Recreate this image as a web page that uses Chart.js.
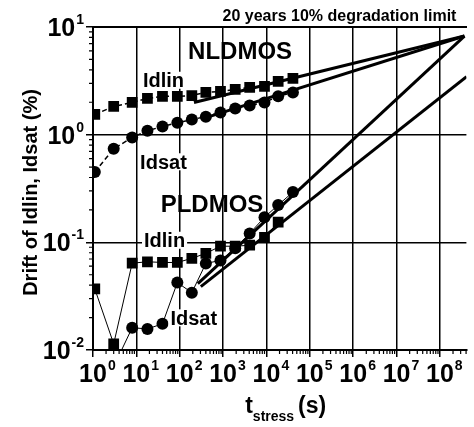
<!DOCTYPE html>
<html>
<head>
<meta charset="utf-8">
<script src="https://cdn.jsdelivr.net/npm/chart.js@4.4.0/dist/chart.umd.min.js"></script>
<style>
  html, body { margin: 0; padding: 0; background: #fff; overflow: hidden; }
  #wrap { width: 474px; height: 427px; }
</style>
</head>
<body>
<div id="wrap"><canvas id="driftChart" width="474" height="427"></canvas></div>
<script>
// Stress times (s) of the measurements
const stressTimes = [1.1, 3, 8, 18, 40, 88, 190, 400, 870, 1900, 4100, 9000, 18600, 40700];

// NLDMOS drift (%)
const nIdlin = [1.54, 1.83, 1.99, 2.17, 2.27, 2.27, 2.31, 2.47, 2.52, 2.63, 2.75, 2.81, 3.13, 3.34];
const nIdsat = [0.45, 0.74, 0.94, 1.09, 1.19, 1.29, 1.38, 1.47, 1.61, 1.75, 1.87, 1.99, 2.27, 2.47];

// PLDMOS drift (%)
const pIdlinTimes = [1.1, 3, 8, 18, 40, 88, 190, 400, 870, 1900, 4100, 9000, 18600];
const pIdlin = [0.037, 0.0114, 0.064, 0.066, 0.065, 0.065, 0.071, 0.079, 0.092, 0.092, 0.094, 0.111, 0.154];
const pIdsatTimes = [3, 8, 18, 40, 88, 190, 400, 870, 1900, 4100, 9000, 18600, 40700];
const pIdsat = [0.007, 0.0161, 0.0157, 0.0175, 0.0423, 0.0341, 0.0637, 0.0679, 0.088, 0.121, 0.171, 0.222, 0.293];

// Extrapolations to the degradation limit: [time, drift] start and end
const fitNIdlin = [[213, 1.99], [3.67e8, 8.24]];
const fitNIdsat = [[340, 1.41], [3.67e8, 8.24]];
const fitPIdsat = [[262, 0.0414], [3.67e8, 8.24]];
const fitPIdlin = [[306, 0.0388], [4.1e8, 3.45]];

// Axis ticks
const xDecades = [1, 10, 100, 1e3, 1e4, 1e5, 1e6, 1e7, 1e8];
const yDecades = [0.01, 0.1, 1, 10];
const xMax = 4.07e8;

// Text placed in the plot, anchored at data coordinates (left, baseline)
const curveLabels = [
  { text: 'NLDMOS', t: 156, d: 5.02, size: 24, box: false },
  { text: 'PLDMOS', t: 36.3, d: 0.191, size: 24, box: false },
  { text: 'Idlin', t: 14.2, d: 2.75, size: 20, box: true },
  { text: 'Idsat', t: 12.2, d: 0.481, size: 20, box: true },
  { text: 'Idlin', t: 15, d: 0.0898, size: 20, box: true },
  { text: 'Idsat', t: 61, d: 0.0171, size: 20, box: true }
];

const FONT = '"Liberation Sans", Arial, Helvetica, sans-serif';

function pairs(xs, ys) {
  return ys.map((y, i) => ({ x: xs[i], y: y }));
}
function fitPoints(f) {
  return f.map(p => ({ x: p[0], y: p[1] }));
}

function measured(label, data, style, dash, width) {
  return {
    label: label,
    data: data,
    borderColor: '#000',
    backgroundColor: '#000',
    borderWidth: width,
    borderDash: dash,
    pointStyle: style,
    pointRadius: style === 'rect' ? 7.6 : 6,
    pointBorderWidth: 0,
    showLine: true,
    tension: 0
  };
}
function fitLine(label, data) {
  return {
    label: label,
    data: data,
    borderColor: '#000',
    borderWidth: 3,
    pointRadius: 0,
    showLine: true,
    tension: 0
  };
}

// labels with a power of ten
function drawPow(ctx, exp, x, y, mode) {
  const bigFont = 'bold 25px ' + FONT;
  const smallFont = 'bold 14px ' + FONT;
  ctx.font = bigFont;
  const wBase = ctx.measureText('10').width;
  ctx.font = smallFont;
  const wExp = ctx.measureText(exp).width;
  let x0;
  if (mode === 'center') x0 = x - wBase / 2;
  else x0 = x - wBase - wExp - 1;
  ctx.textAlign = 'left';
  ctx.textBaseline = 'alphabetic';
  ctx.font = bigFont;
  ctx.fillText('10', x0, y);
  ctx.font = smallFont;
  ctx.fillText(exp, x0 + wBase + 1, y - 12);
}

const decorations = {
  id: 'decorations',
  beforeDraw(chart) {
    const { ctx, scales } = chart;
    ctx.save();
    ctx.fillStyle = '#fff';
    ctx.fillRect(0, 0, chart.width, chart.height);
    ctx.fillStyle = '#000';
    ctx.textBaseline = 'alphabetic';
    ctx.textAlign = 'left';
    curveLabels.filter(l => !l.box).forEach(l => {
      ctx.font = 'bold ' + l.size + 'px ' + FONT;
      ctx.fillText(l.text, scales.x.getPixelForValue(l.t), scales.y.getPixelForValue(l.d));
    });
    ctx.restore();
  },
  afterDatasetsDraw(chart) {
    const { ctx, scales } = chart;
    ctx.save();
    ctx.textBaseline = 'alphabetic';
    ctx.textAlign = 'left';
    curveLabels.filter(l => l.box).forEach(l => {
      ctx.font = 'bold ' + l.size + 'px ' + FONT;
      const x = scales.x.getPixelForValue(l.t);
      const y = scales.y.getPixelForValue(l.d);
      const w = ctx.measureText(l.text).width;
      ctx.fillStyle = '#fff';
      ctx.fillRect(x - 2, y - l.size * 0.78, w + 4, l.size * 0.85);
      ctx.fillStyle = '#000';
      ctx.fillText(l.text, x, y);
    });
    ctx.restore();
  },
  afterDraw(chart) {
    const { ctx, scales, chartArea } = chart;
    const xs = scales.x, ys = scales.y;
    ctx.save();
    ctx.strokeStyle = '#000';
    ctx.lineWidth = 1.2;

    // minor ticks
    ctx.beginPath();
    xDecades.forEach(d => {
      for (let k = 2; k <= 9; k++) {
        const v = d * k;
        if (v > xMax) break;
        const px = xs.getPixelForValue(v);
        ctx.moveTo(px, chartArea.bottom);
        ctx.lineTo(px, chartArea.bottom + 4);
      }
    });
    yDecades.slice(0, -1).forEach(d => {
      for (let k = 2; k <= 9; k++) {
        const py = ys.getPixelForValue(d * k);
        ctx.moveTo(chartArea.left, py);
        ctx.lineTo(chartArea.left - 4, py);
      }
    });
    ctx.stroke();

    ctx.fillStyle = '#000';
    // tick labels
    xDecades.forEach((d, i) => {
      drawPow(ctx, String(i), xs.getPixelForValue(d), chartArea.bottom + 32, 'center');
    });
    yDecades.forEach((d, i) => {
      drawPow(ctx, String(i - 2), chartArea.left - 9, ys.getPixelForValue(d) + 9, 'right');
    });

    // y title
    ctx.save();
    ctx.translate(37, (chartArea.top + chartArea.bottom) / 2 + 4);
    ctx.rotate(-Math.PI / 2);
    ctx.textAlign = 'center';
    ctx.font = 'bold 20px ' + FONT;
    ctx.fillText('Drift of Idlin, Idsat (%)', 0, 0);
    ctx.restore();

    // x title: t_stress (s)
    const big = 'bold 23px ' + FONT, sub = 'bold 14px ' + FONT;
    ctx.font = big;
    const wt = ctx.measureText('t').width;
    const wp = ctx.measureText('(s)').width;
    ctx.font = sub;
    const ws = ctx.measureText('stress').width;
    const total = wt + ws + wp + 4;
    let x0 = (chartArea.left + chartArea.right) / 2 + 6 - total / 2;
    const base = chartArea.bottom + 63;
    ctx.textAlign = 'left';
    ctx.font = big;
    ctx.fillText('t', x0, base);
    ctx.font = sub;
    ctx.fillText('stress', x0 + wt, base + 8);
    ctx.font = big;
    ctx.fillText('(s)', x0 + wt + ws + 4, base);

    // limit note
    ctx.font = 'bold 16px ' + FONT;
    ctx.textAlign = 'right';
    ctx.fillText('20 years 10% degradation limit', chartArea.right - 10, chartArea.top - 6);
    ctx.restore();
  }
};

const ctx = document.getElementById('driftChart').getContext('2d');
new Chart(ctx, {
  type: 'scatter',
  data: {
    datasets: [
      measured('NLDMOS Idlin', pairs(stressTimes, nIdlin), 'rect', [5, 3], 1.5),
      measured('NLDMOS Idsat', pairs(stressTimes, nIdsat), 'circle', [5, 3], 1.5),
      measured('PLDMOS Idlin', pairs(pIdlinTimes, pIdlin), 'rect', [], 1),
      measured('PLDMOS Idsat', pairs(pIdsatTimes, pIdsat), 'circle', [], 1),
      fitLine('fit NLDMOS Idlin', fitPoints(fitNIdlin)),
      fitLine('fit NLDMOS Idsat', fitPoints(fitNIdsat)),
      fitLine('fit PLDMOS Idsat', fitPoints(fitPIdsat)),
      fitLine('fit PLDMOS Idlin', fitPoints(fitPIdlin))
    ]
  },
  options: {
    responsive: false,
    animation: false,
    layout: { padding: { top: 27, right: 0, left: 0, bottom: 0 } },
    plugins: {
      legend: { display: false },
      tooltip: { enabled: false }
    },
    scales: {
      x: {
        type: 'logarithmic',
        position: 'bottom',
        min: 1,
        max: xMax,
        afterBuildTicks: s => { s.ticks = xDecades.map(v => ({ value: v })); },
        afterFit: s => { s.height = 77; },
        ticks: { display: false },
        grid: { color: '#000', lineWidth: 1.5, tickLength: 7, tickColor: '#000', tickWidth: 1.5 },
        border: { color: '#000', width: 2 }
      },
      xTop: {
        axis: 'x',
        type: 'logarithmic',
        position: 'top',
        min: 1,
        max: xMax,
        afterFit: s => { s.height = 0; },
        ticks: { display: false },
        grid: { display: false },
        border: { color: '#000', width: 2 }
      },
      y: {
        type: 'logarithmic',
        position: 'left',
        min: 0.01,
        max: 10,
        afterBuildTicks: s => { s.ticks = yDecades.map(v => ({ value: v })); },
        afterFit: s => { s.width = 93; },
        ticks: { display: false },
        grid: { color: '#000', lineWidth: 1.5, tickLength: 7, tickColor: '#000', tickWidth: 1.5 },
        border: { color: '#000', width: 2 }
      }
    }
  },
  plugins: [decorations]
});
</script>
</body>
</html>
